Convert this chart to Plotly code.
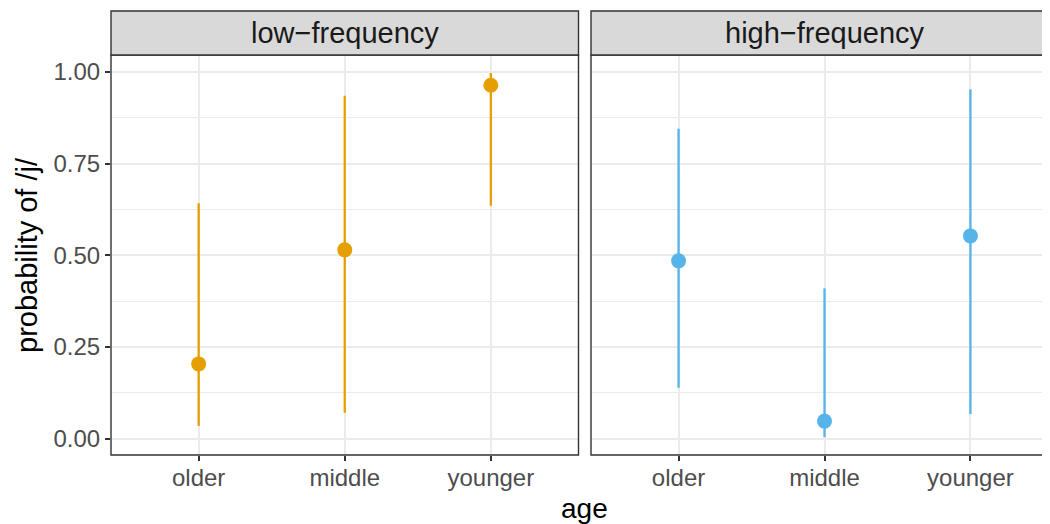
import plotly.graph_objects as go

# ---- data ----
ages = ["older", "middle", "younger"]
panels = ["low−frequency", "high−frequency"]
low_mean = [0.204, 0.515, 0.964]
low_lower = [0.035, 0.071, 0.635]
low_upper = [0.642, 0.935, 0.997]
high_mean = [0.485, 0.048, 0.553]
high_lower = [0.139, 0.004, 0.067]
high_upper = [0.845, 0.410, 0.953]
y_ticks = [0.0, 0.25, 0.5, 0.75, 1.0]
y_tick_labels = ["0.00", "0.25", "0.50", "0.75", "1.00"]
colors = ["#E69F00", "#56B4E9"]

W, H = 1050, 524
FONT = "Liberation Sans, Arial, Helvetica, sans-serif"

# layout geometry (figure pixels)
p1_left, p1_right = 103.0, 570.5
p2_left, p2_right = 583.0, 1050.0
plot_top, plot_bottom = 47.0, 447.0
strip_top = 3.0

fig = go.Figure()

series = [(low_mean, low_lower, low_upper), (high_mean, high_lower, high_upper)]
for i, (m, lo, up) in enumerate(series):
    fig.add_trace(go.Scatter(
        x=ages, y=m, mode="markers",
        marker=dict(color=colors[i], size=15, line=dict(width=0)),
        error_y=dict(type="data", symmetric=False,
                     array=[u - v for u, v in zip(up, m)],
                     arrayminus=[v - l for v, l in zip(m, lo)],
                     color=colors[i], thickness=2.3, width=0),
        xaxis="x" if i == 0 else "x2", yaxis="y" if i == 0 else "y2",
        showlegend=False, hoverinfo="skip",
    ))

ydom = [(H - plot_bottom) / H, (H - plot_top) / H]
yrange = [-0.0445, 1.0464]

common_x = dict(
    type="category", categoryorder="array", categoryarray=ages,
    range=[-0.6, 2.6],
    showgrid=True, gridcolor="#EBEBEB", gridwidth=2,
    ticks="outside", ticklen=5, tickwidth=1.5, tickcolor="#333333",
    ticklabelstandoff=-4,
    tickfont=dict(family=FONT, size=24, color="#4D4D4D"),
    showline=False, zeroline=False, automargin=False, fixedrange=True,
)
fig.update_layout(
    xaxis=dict(domain=[p1_left / W, p1_right / W], anchor="y", **common_x),
    xaxis2=dict(domain=[p2_left / W, p2_right / W], anchor="y2", **common_x),
)

common_y = dict(
    domain=ydom, range=yrange, tickvals=y_ticks,
    showgrid=True, gridcolor="#EBEBEB", gridwidth=2,
    minor=dict(tickvals=[0.125, 0.375, 0.625, 0.875], showgrid=True,
               gridcolor="#EBEBEB", gridwidth=1, ticks=""),
    zeroline=False, showline=False, automargin=False, fixedrange=True,
)
fig.update_layout(
    yaxis=dict(anchor="x", ticktext=y_tick_labels, ticks="outside", ticklen=5,
               tickwidth=1.5, tickcolor="#333333",
               tickfont=dict(family=FONT, size=24, color="#4D4D4D"), **common_y),
    yaxis2=dict(anchor="x2", showticklabels=False, ticks="", matches="y", **common_y),
)

shapes = []
annotations = []
strip_y0 = (H - plot_top) / H
strip_y1 = (H - strip_top) / H
for i, xr in enumerate(["x domain", "x2 domain"]):
    yr = "y domain" if i == 0 else "y2 domain"
    shapes.append(dict(type="rect", xref=xr, yref=yr, x0=0, x1=1, y0=0, y1=1,
                       line=dict(color="#333333", width=1.4), fillcolor="rgba(0,0,0,0)",
                       layer="above"))
    shapes.append(dict(type="rect", xref=xr, yref="paper", x0=0, x1=1,
                       y0=strip_y0, y1=strip_y1,
                       line=dict(color="#333333", width=1.4), fillcolor="#D9D9D9",
                       layer="above"))
    annotations.append(dict(text=panels[i], xref=xr, yref="paper", x=0.5,
                            y=(strip_y0 + strip_y1) / 2, showarrow=False,
                            xanchor="center", yanchor="middle",
                            font=dict(family=FONT, size=29, color="#1A1A1A")))

annotations.append(dict(text="age", xref="paper", yref="paper",
                        x=(p1_left + p2_right) / 2 / W,
                        y=(H - 500) / H, showarrow=False, xanchor="center", yanchor="middle",
                        font=dict(family=FONT, size=28, color="black")))
annotations.append(dict(text="probability of /j/", xref="paper", yref="paper",
                        x=19 / W, y=(H - (plot_top + plot_bottom) / 2) / H, textangle=-90,
                        showarrow=False, xanchor="center", yanchor="middle",
                        font=dict(family=FONT, size=29, color="black")))

fig.update_layout(
    width=W, height=H, margin=dict(l=0, r=0, t=0, b=0),
    paper_bgcolor="white", plot_bgcolor="white",
    shapes=shapes, annotations=annotations, showlegend=False,
)

fig.write_html("out.html", config={"displayModeBar": False})
